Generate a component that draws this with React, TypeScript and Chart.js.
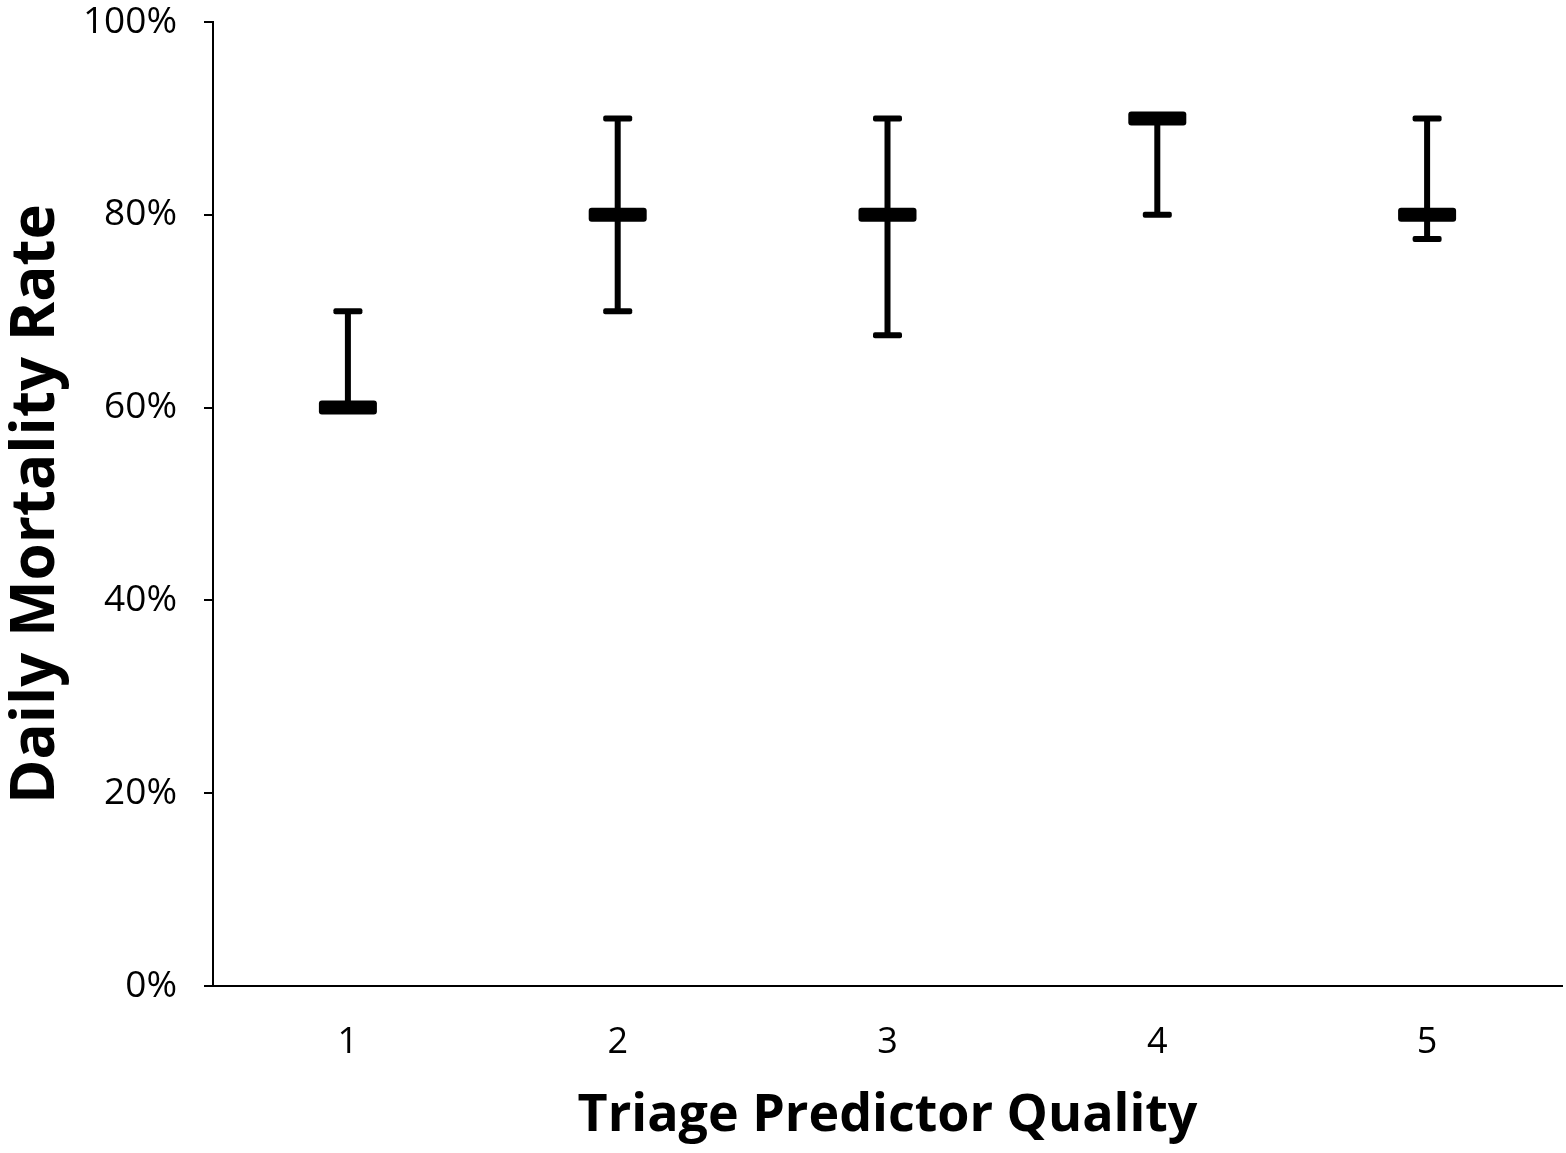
import React, { useEffect, useRef } from 'react';
import { Chart, registerables } from 'chart.js';

Chart.register(...registerables);

const categories = ['1', '2', '3', '4', '5'];
const medianValues = [60, 80, 80, 90, 80];
const upperValues = [70, 90, 90, 90, 90];
const lowerValues = [60, 70, 67.5, 80, 77.5];
const yTicks = [0, 20, 40, 60, 80, 100];

const FONT = '"Open Sans", "Liberation Sans", sans-serif';

const errorBarPlugin = {
  id: 'errorBars',
  afterDatasetsDraw(chart: any) {
    const { ctx, scales } = chart;
    const x = scales.x;
    const y = scales.y;
    ctx.save();
    ctx.fillStyle = '#000';
    const rr = (cx: number, cy: number, w: number, h: number, r: number) => {
      ctx.beginPath();
      ctx.roundRect(cx - w / 2, cy - h / 2, w, h, r);
      ctx.fill();
    };
    categories.forEach((c, i) => {
      const px = x.getPixelForValue(i);
      const yu = y.getPixelForValue(upperValues[i]);
      const yl = y.getPixelForValue(lowerValues[i]);
      const ym = y.getPixelForValue(medianValues[i]);
      ctx.fillRect(px - 3, yu, 6, yl - yu);
      rr(px, yu, 29, 6, 2);
      rr(px, yl, 29, 6, 2);
      rr(px, ym, 58, 14, 3);
    });
    ctx.restore();
  },
};

export default function App() {
  const ref = useRef<HTMLCanvasElement>(null);
  useEffect(() => {
    if (!ref.current) return;
    const chart = new Chart(ref.current, {
      type: 'line',
      data: {
        labels: categories,
        datasets: [
          {
            data: medianValues,
            showLine: false,
            pointRadius: 0,
            borderColor: '#000',
          },
        ],
      },
      plugins: [errorBarPlugin],
      options: {
        animation: false,
        responsive: false,
        maintainAspectRatio: false,
        layout: { padding: { top: 22, right: 4, left: 0, bottom: 0 } },
        plugins: { legend: { display: false }, tooltip: { enabled: false } },
        scales: {
          x: {
            type: 'category',
            offset: true,
            grid: { display: false, drawTicks: false },
            border: { display: true, color: '#000', width: 2 },
            ticks: {
              color: '#000',
              font: { family: FONT, size: 36 },
              padding: 35,
            },
            title: {
              display: true,
              text: 'Triage Predictor Quality',
              color: '#000',
              font: { family: FONT, size: 52, weight: 'bold' },
              padding: { top: 0, bottom: 6 },
            },
            afterFit(scale: any) {
              scale.height = 167;
              scale.paddingLeft = 0;
              scale.paddingRight = 0;
            },
          },
          y: {
            min: 0,
            max: 100,
            afterBuildTicks(scale: any) {
              scale.ticks = yTicks.map((v) => ({ value: v }));
            },
            grid: {
              display: true,
              drawOnChartArea: false,
              drawTicks: true,
              tickLength: 9,
              color: '#000',
              lineWidth: 2,
            },
            border: { display: true, color: '#000', width: 2 },
            ticks: {
              color: '#000',
              font: { family: FONT, size: 37 },
              padding: 27,
              callback: (v: any) => v + '%',
            },
            title: {
              display: true,
              text: 'Daily Mortality Rate',
              color: '#000',
              font: { family: FONT, size: 60, weight: 'bold' },
              padding: { top: 1, bottom: 0 },
            },
            afterFit(scale: any) {
              scale.width = 213;
              scale.paddingTop = 0;
              scale.paddingBottom = 0;
            },
          },
        },
      },
    });
    return () => chart.destroy();
  }, []);
  return (
    <div style={{ position: 'fixed', left: 0, top: 0, width: 1566, height: 1153, background: '#fff' }}>
      <canvas ref={ref} width={1566} height={1153} style={{ width: 1566, height: 1153, display: 'block' }} />
    </div>
  );
}
